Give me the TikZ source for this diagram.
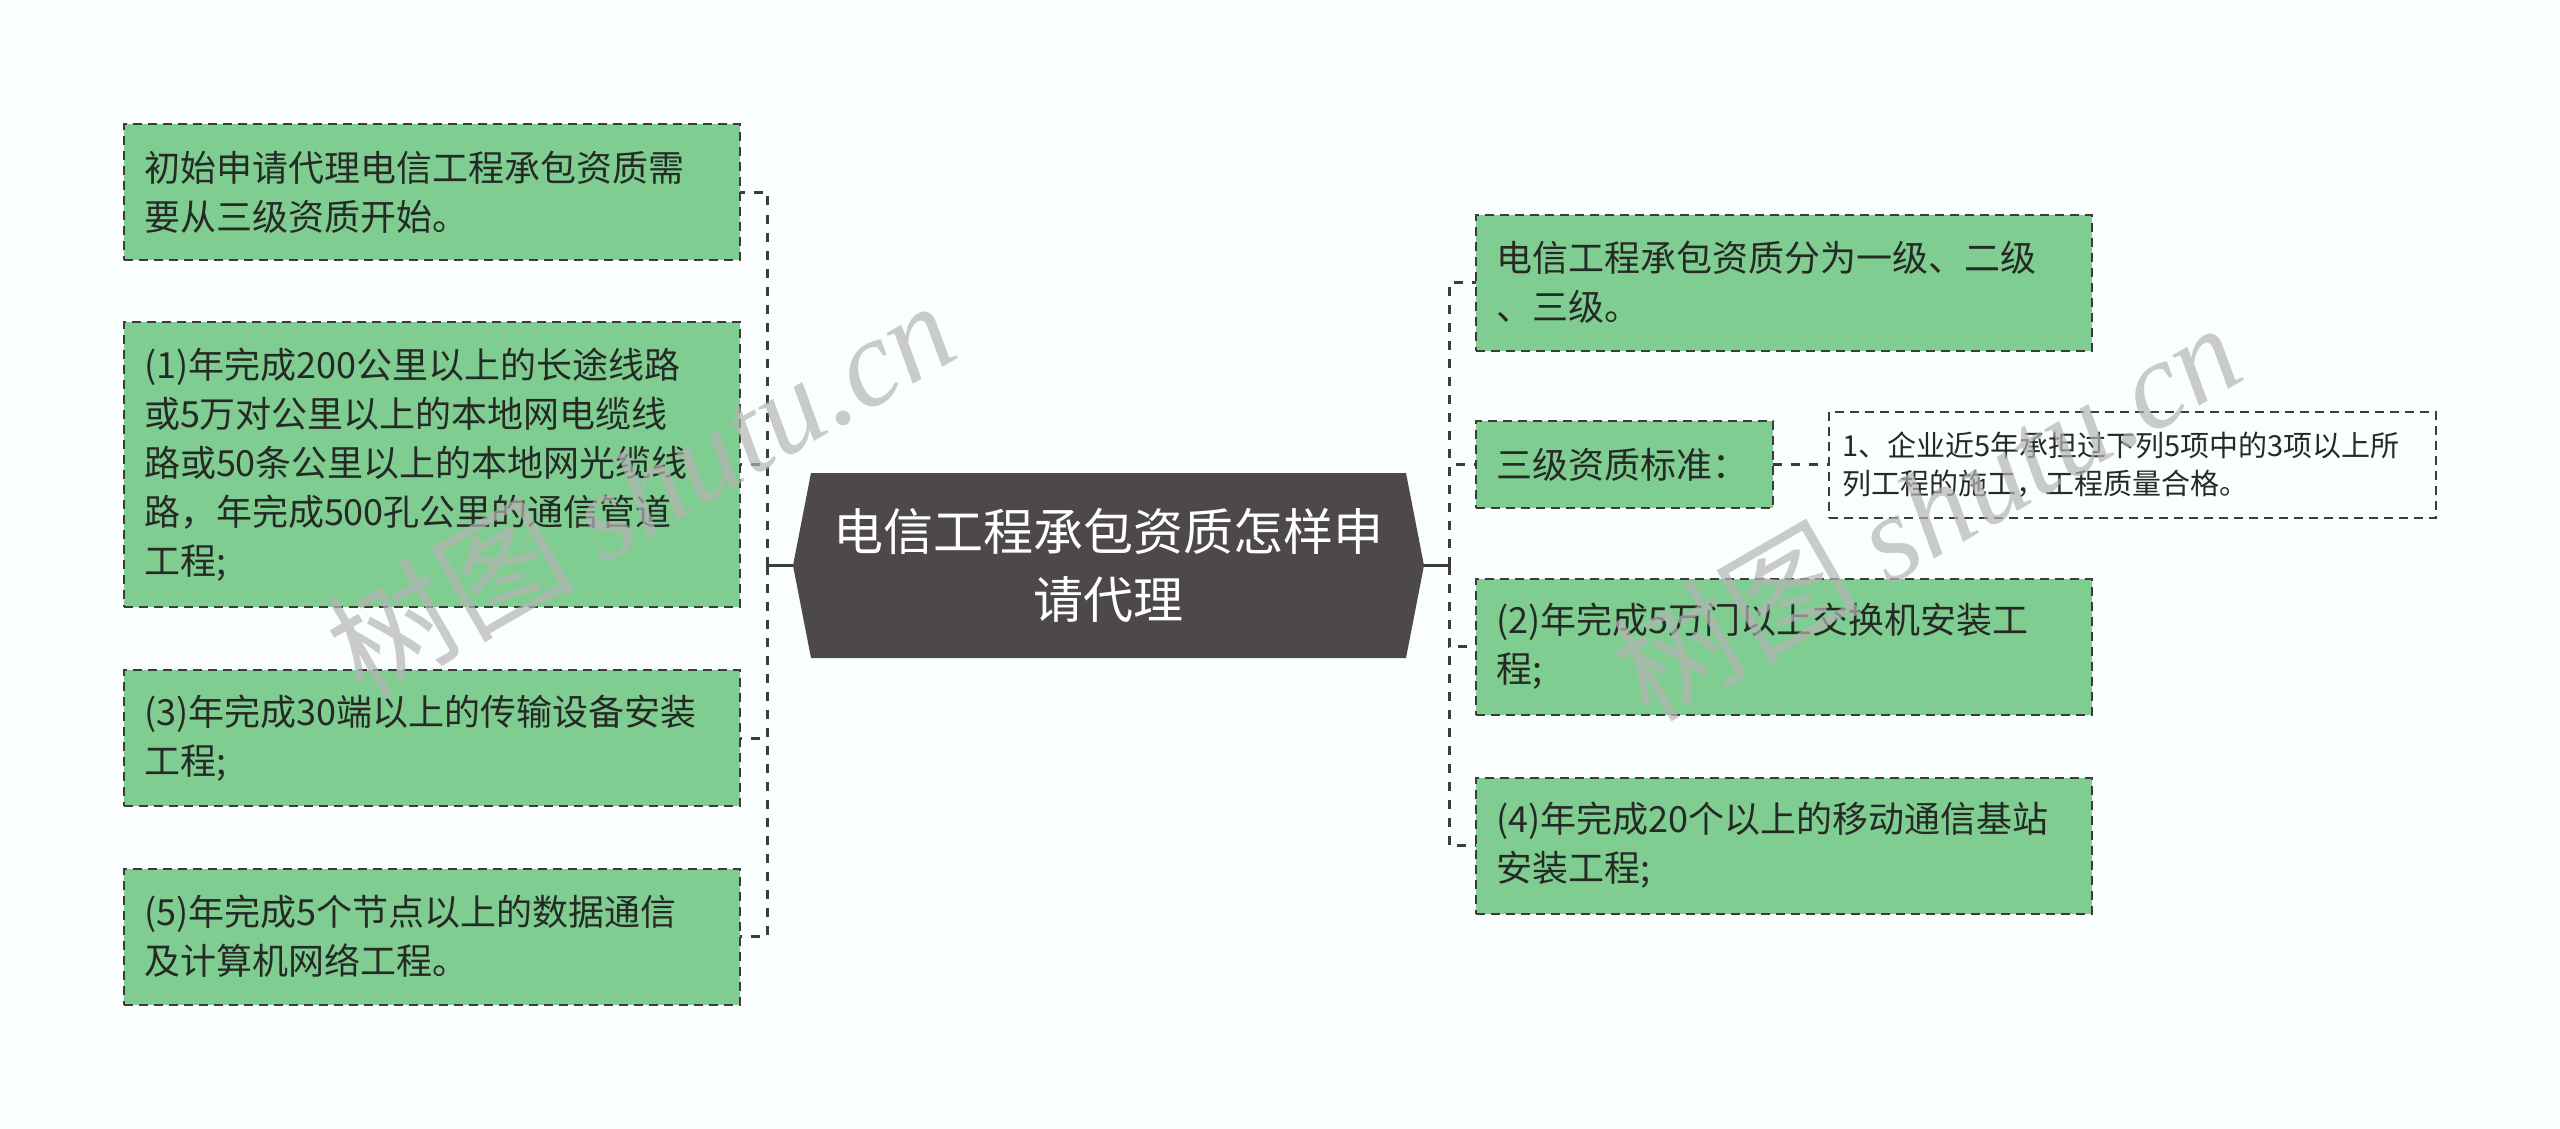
\documentclass[tikz,border=0pt]{standalone}
\usepackage{fontspec}
\setmainfont{Noto Sans CJK SC}
\newfontfamily\markfont{Liberation Serif}
\usepackage{tikz}
\usetikzlibrary{calc,positioning}
\definecolor{paper}{RGB}{251,254,254}
\definecolor{leafgreen}{RGB}{128,205,145}
\definecolor{rootgray}{RGB}{78,73,73}
\definecolor{wire}{RGB}{60,60,60}
\definecolor{ink}{RGB}{38,42,38}
\definecolor{wmgray}{RGB}{180,180,180}
\tikzset{
	leaf/.style={shape=rectangle,draw=wire,fill=leafgreen,line width=1pt,dash pattern=on 4.5pt off 3pt,text=ink,align=left,font=\fontsize{18}{24.5}\selectfont,inner xsep=10pt,inner ysep=0pt,outer sep=0pt,text width=288pt,minimum height=68pt},
	notebox/.style={shape=rectangle,draw=wire,fill=paper,line width=1pt,dash pattern=on 4.5pt off 3pt,text=ink,align=left,font=\fontsize{14.5}{18.75}\selectfont,inner xsep=6.5pt,inner ysep=0pt,outer sep=0pt,text width=290.5pt,minimum height=53pt},
	link/.style={draw=wire,line width=1.5pt,dash pattern=on 4.5pt off 4.5pt},
	stub/.style={draw=wire,line width=1.5pt},
	wmark/.style={text=wmgray,text opacity=0.7,rotate=30,font=\fontsize{62}{62}\selectfont}
}
\begin{document}
\begin{tikzpicture}[x=0.5pt,y=-0.5pt]
		\useasboundingbox (0,0) rectangle (2560,1129);
		\fill[paper] (0,0) rectangle (2560,1129);
		\begin{scope}
			\coordinate (c) at (1108.5,565.5);
			\fill[rootgray] ($(c)+(-297.5,-92.5)$) -- ($(c)+(297.5,-92.5)$) -- ($(c)+(315.5,0)$) -- ($(c)+(297.5,92.5)$) -- ($(c)+(-297.5,92.5)$) -- ($(c)+(-315.5,0)$) -- cycle;
			\node(root) at (c) [text=white,align=center,font=\fontsize{25}{34}\selectfont] {电信工程承包资质怎样申\\请代理};
			\coordinate (rootw) at ($(c)+(-315.5,0)$);
			\coordinate (roote) at ($(c)+(315.5,0)$);
			\coordinate (lj) at (767,565.5);
			\coordinate (rj) at (1449,565.5);
			\node(l1) [leaf] at (432,192) {初始申请代理电信工程承包资质需\\要从三级资质开始。};
			\node(l2) [leaf,minimum height=142.5pt] at (432,464.5) {(1)年完成200公里以上的长途线路\\或5万对公里以上的本地网电缆线\\路或50条公里以上的本地网光缆线\\路，年完成500孔公里的通信管道\\工程;};
			\node(l3) [leaf] at (432,738) {(3)年完成30端以上的传输设备安装\\工程;};
			\node(l4) [leaf] at (432,936.5) {(5)年完成5个节点以上的数据通信\\及计算机网络工程。};
			\node(r1) [leaf] at (1784,282.5) {电信工程承包资质分为一级、二级\\、三级。};
			\node(r2) [leaf,text width=128.5pt,minimum height=43.5pt] at (1624.5,464.5) {三级资质标准：};
			\node(r2a) [notebox,right=28pt of r2] {1、企业近5年承担过下列5项中的3项以上所\\列工程的施工，工程质量合格。};
			\node(r3) [leaf] at (1784,646.5) {(2)年完成5万门以上交换机安装工\\程;};
			\node(r4) [leaf] at (1784,845.5) {(4)年完成20个以上的移动通信基站\\安装工程;};
			\draw[stub] (rootw) -- (lj);
			\draw[stub] (roote) -- (rj);
			\foreach \n in {l1,l2,l3,l4}
				\draw[link] (lj) |- (\n.east);
			\foreach \n in {r1,r2,r3,r4}
				\draw[link] (rj) |- (\n.west);
			\draw[link] (r2) -- (r2a);
			\node(wm1) [wmark] at (640,488) {树图 {\markfont\itshape shutu.cn}};
			\node(wm2) [wmark] at (1926,510) {树图 {\markfont\itshape shutu.cn}};
		\end{scope}
	\end{tikzpicture}
\end{document}
